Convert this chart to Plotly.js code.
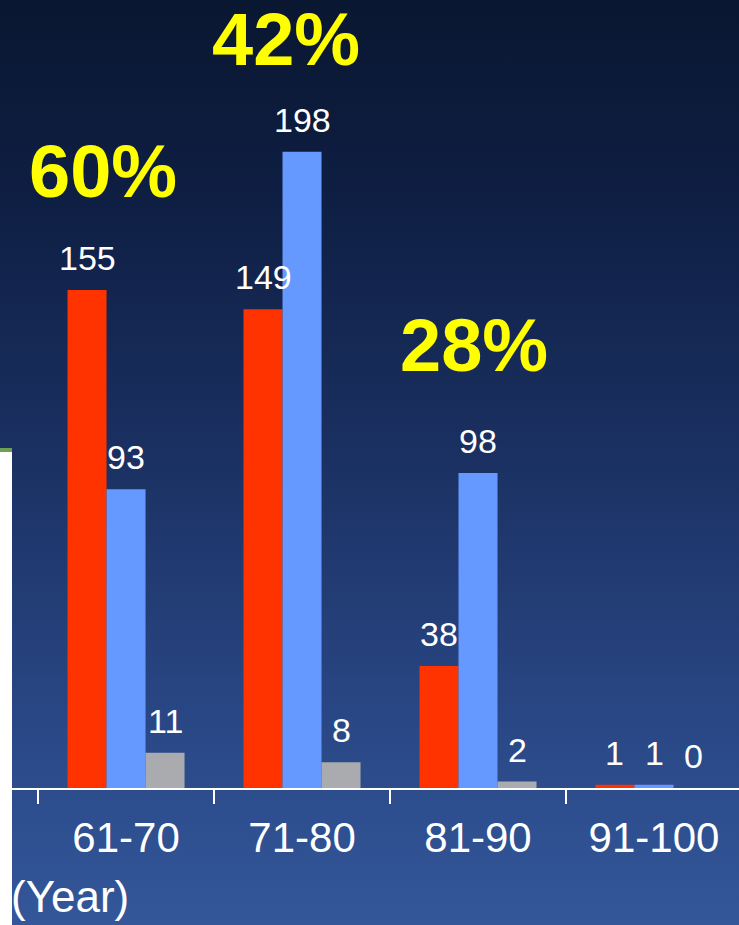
<!DOCTYPE html>
<html>
<head>
<meta charset="utf-8">
<script src="https://cdn.plot.ly/plotly-3.0.1.min.js"></script>
<style>
  html, body { margin: 0; padding: 0; }
  body {
    width: 739px; height: 925px; overflow: hidden;
    background: linear-gradient(to bottom, #0a1731 0%, #0e1e42 20%, #1b3163 50%, #284582 75%, #33579a 100%);
  }
  #chart { width: 739px; height: 925px; }
</style>
</head>
<body>
<div id="chart"></div>
<script>
// ---- data ----
const categories = ['61-70', '71-80', '81-90', '91-100'];
const redValues  = [155, 149, 38, 1];
const blueValues = [93, 198, 98, 1];
const grayValues = [11, 8, 2, 0];
const pctLabels  = ['60%', '42%', '28%'];
// annotation anchor positions (category units, value units)
const pctX = [-0.131, 0.909, 1.977];
const pctY = [191.9, 233.0, 137.7];
const yearLabel = '(Year)';

// ---- style ----
const colors = ['#ff3300', '#6699ff', '#a9abae'];
const bargap = 0.335;
const barW = (1 - bargap) / 3;
const FONT = 'Liberation Sans, Arial, Helvetica, sans-serif';

const series = [redValues, blueValues, grayValues];
const traces = series.map((vals, j) => ({
  type: 'bar',
  x: categories,
  y: vals,
  marker: { color: colors[j], line: { width: 0 } },
  hoverinfo: 'none',
  showlegend: false
}));

const annotations = [];
series.forEach((vals, j) => {
  vals.forEach((v, i) => {
    annotations.push({
      xref: 'x', yref: 'y',
      x: i + (j - 1) * barW, y: v,
      text: String(v), showarrow: false,
      yshift: 32, xanchor: 'center', yanchor: 'middle',
      font: { family: FONT, size: 34, color: '#ffffff' }
    });
  });
});
pctLabels.forEach((t, k) => {
  annotations.push({
    xref: 'x', yref: 'y', x: pctX[k], y: pctY[k],
    text: '<b>' + t + '</b>', showarrow: false,
    xanchor: 'center', yanchor: 'middle', borderpad: 0,
    font: { family: FONT, size: 74, color: '#ffff00' }
  });
});
annotations.push({
  xref: 'paper', yref: 'paper', x: 0, y: -0.138, xshift: -3,
  text: yearLabel, showarrow: false,
  xanchor: 'left', yanchor: 'middle',
  font: { family: FONT, size: 44, color: '#ffffff' }
});

const layout = {
  width: 739, height: 925,
  margin: { l: 12, r: 0, t: 0, b: 137, pad: 0 },
  paper_bgcolor: 'rgba(0,0,0,0)',
  plot_bgcolor: 'rgba(0,0,0,0)',
  barmode: 'group',
  bargap: bargap,
  bargroupgap: 0,
  showlegend: false,
  xaxis: {
    type: 'category',
    range: [-0.648, 3.483],
    showline: true, linecolor: '#ffffff', linewidth: 2,
    ticks: 'outside', tickson: 'boundaries', ticklen: 14, tickwidth: 2, tickcolor: '#ffffff',
    ticklabelstandoff: 12,
    tickfont: { family: FONT, size: 42, color: '#ffffff' },
    showgrid: false, zeroline: false, fixedrange: true
  },
  yaxis: {
    range: [0, 245.2], visible: false, showgrid: false, zeroline: false, fixedrange: true
  },
  annotations: annotations,
  shapes: [
    { type: 'rect', xref: 'paper', yref: 'paper', x0: -12/727, x1: 0, y0: -137/788, y1: 340/788,
      fillcolor: '#ffffff', line: { width: 0 }, layer: 'above' },
    { type: 'rect', xref: 'paper', yref: 'paper', x0: -12/727, x1: 0, y0: 336/788, y1: 340/788,
      fillcolor: '#6f9f55', line: { width: 0 }, layer: 'above' }
  ]
};

Plotly.newPlot('chart', traces, layout, { displayModeBar: false, staticPlot: true });
</script>
</body>
</html>
